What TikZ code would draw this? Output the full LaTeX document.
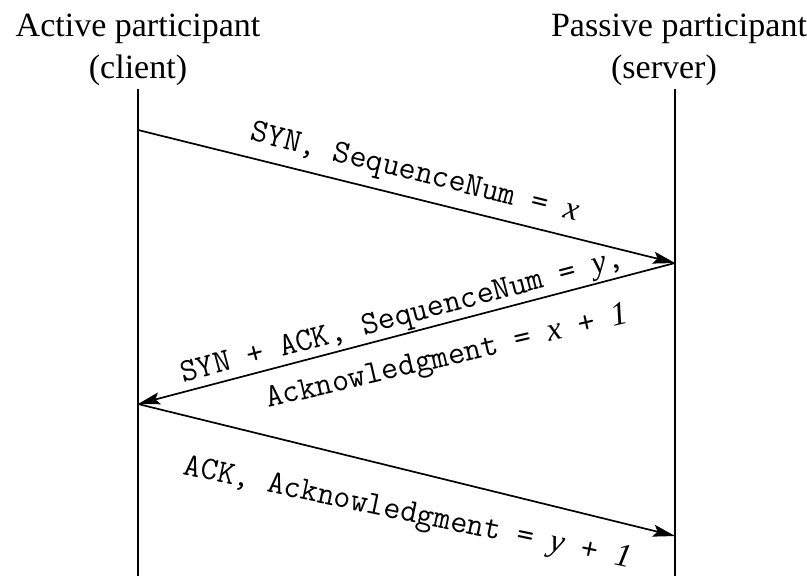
\documentclass[tikz,border=0pt]{standalone}
\usepackage{fontspec}
\setmainfont{Liberation Serif}
\usepackage{tikz}
\usetikzlibrary{arrows.meta}

\newcommand{\var}[1]{{\rmfamily\itshape #1}}

\begin{document}
\begin{tikzpicture}[x=1pt, y=-1pt,
  head/.style = {inner sep=0pt, anchor=base, font=\fontsize{34}{40}\selectfont},
  lbl/.style = {inner sep=0pt, sloped, font=\fontsize{33}{36}\selectfont\ttfamily},
  lifeline/.style = {line width=1.8pt},
  msg/.style = {line width=1.7pt, -{Stealth[length=22pt, width=12pt, inset=4pt]}}]
  \useasboundingbox (0,0) rectangle (807,576);
  % participants
  \node[head] (act) at (138,36) {Active participant};
  \node[head] (cli) at (138,78) {(client)};
  \node[head] (pas) at (679,36) {Passive participant};
  \node[head] (srv) at (664,78) {(server)};
  % time lines
  \coordinate (ctop) at (138,89);
  \coordinate (cbot) at (138,576);
  \coordinate (stop) at (675,89);
  \coordinate (sbot) at (675,576);
  \draw[lifeline] (ctop) -- (cbot);
  \draw[lifeline] (stop) -- (sbot);
  % handshake
  \coordinate (c1) at (138,130);
  \coordinate (s1) at (675,263);
  \coordinate (c2) at (138,404);
  \coordinate (s2) at (675,536);
  \draw[msg] (c1) -- node[lbl, pos=0.505, above=9pt] {SYN, SequenceNum = \var{x}} (s1);
  \draw[msg] (s1) -- node[lbl, pos=0.5, above=1pt] {SYN + ACK, SequenceNum = \var{y},}
                     node[lbl, pos=0.44, below=19pt, rotate=-1.5] {Acknowledgment = \var{x} + \var{1}} (c2);
  \draw[msg] (c2) -- node[lbl, pos=0.52, below=27pt, rotate=2] {ACK, Acknowledgment = \var{y} + \var{1}} (s2);
\end{tikzpicture}
\end{document}
